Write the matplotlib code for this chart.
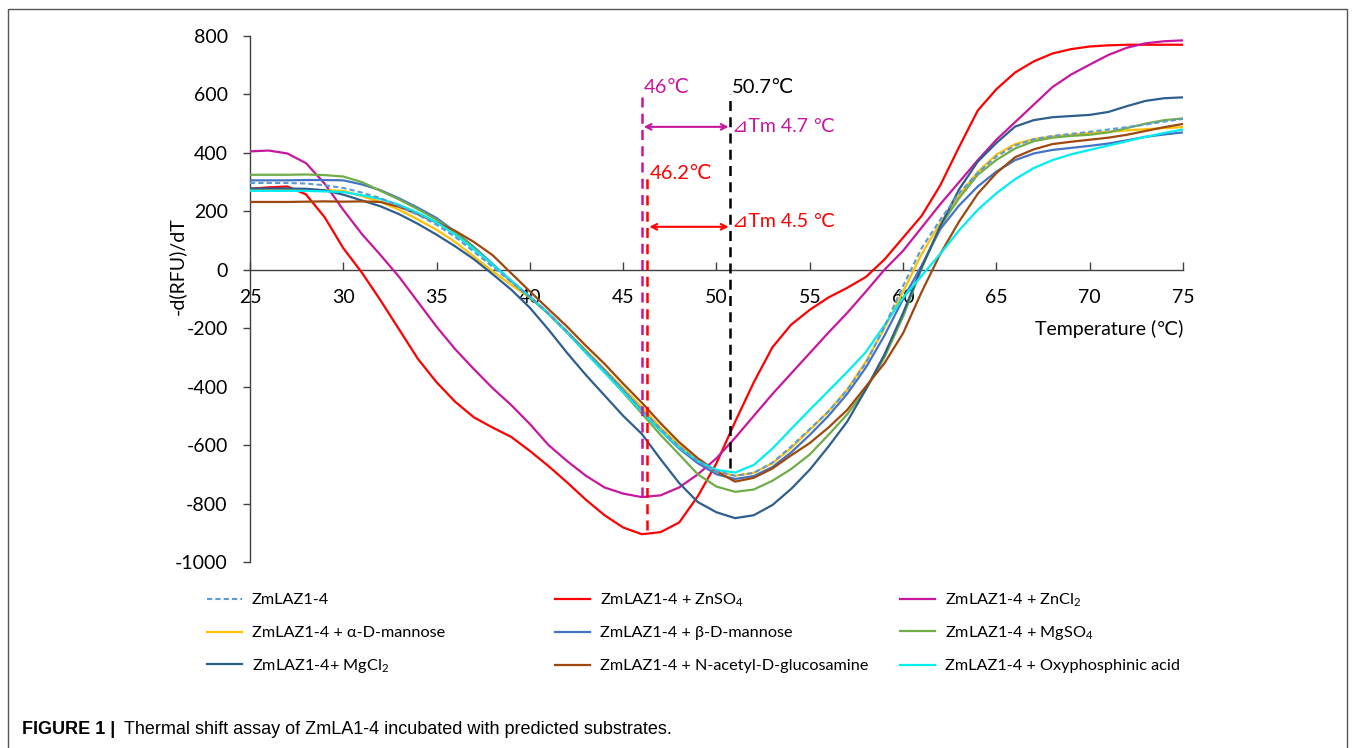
import matplotlib
matplotlib.use('Agg')
import matplotlib.pyplot as plt
import numpy as np
from matplotlib.patches import Rectangle

plt.rcParams['font.family'] = ['Lato', 'DejaVu Sans']
plt.rcParams['axes.unicode_minus'] = False
plt.rcParams['mathtext.fontset'] = 'custom'
plt.rcParams['mathtext.rm'] = 'Lato'
plt.rcParams['mathtext.default'] = 'regular'

# temperature grid (deg C) and -d(RFU)/dT
temp = np.arange(25, 76)

zmlaz = [297, 297, 297, 295, 289, 280, 264, 245, 218, 188,
         154, 112, 62, 10, -42, -92, -150, -212, -278, -343,
         -410, -478, -545, -605, -655, -690, -705, -695, -660, -605,
         -545, -485, -412, -320, -195, -55, 75, 172, 262, 332,
         388, 425, 447, 458, 465, 472, 480, 488, 497, 507,
         516]
znso4 = [277, 282, 285, 258, 180, 74, -10, -105, -205, -305,
         -385, -452, -505, -540, -572, -620, -672, -728, -787, -840,
         -882, -905, -898, -865, -775, -662, -520, -385, -265, -188,
         -137, -95, -62, -25, 35, 110, 185, 290, 420, 545,
         618, 675, 713, 740, 755, 764, 768, 770, 770, 770,
         770]
zncl2 = [405, 408, 398, 365, 295, 205, 122, 50, -25, -110,
         -195, -272, -340, -405, -463, -528, -600, -655, -705, -745,
         -766, -778, -772, -745, -700, -645, -575, -500, -425, -355,
         -285, -215, -148, -75, 0, 65, 145, 225, 300, 375,
         445, 505, 565, 625, 668, 702, 735, 760, 775, 782,
         785]
alpha_man = [275, 275, 275, 274, 272, 270, 252, 232, 205, 172,
             137, 95, 45, -5, -52, -95, -150, -212, -275, -340,
             -405, -470, -540, -600, -652, -690, -705, -695, -662, -610,
             -548, -485, -410, -315, -200, -75, 55, 160, 255, 335,
             394, 430, 447, 456, 462, 468, 472, 477, 481, 485,
             488]
beta_man = [306, 306, 306, 307, 307, 306, 292, 272, 244, 212,
            177, 130, 78, 20, -38, -92, -150, -213, -280, -345,
            -413, -482, -550, -612, -662, -700, -716, -706, -675, -625,
            -565, -500, -425, -335, -225, -100, 15, 140, 220, 285,
            336, 375, 398, 410, 417, 424, 432, 443, 455, 463,
            470]
mgso4 = [325, 325, 325, 326, 324, 319, 300, 270, 240, 207,
         171, 128, 75, 18, -40, -95, -152, -215, -282, -350,
         -420, -492, -565, -632, -700, -742, -760, -752, -722, -682,
         -632, -565, -495, -410, -300, -160, 5, 150, 245, 325,
         376, 415, 440, 452, 458, 462, 470, 485, 500, 512,
         518]
mgcl2 = [278, 278, 278, 277, 272, 257, 237, 217, 190, 157,
         120, 80, 36, -15, -68, -130, -205, -285, -360, -430,
         -500, -562, -648, -730, -795, -830, -850, -840, -805, -750,
         -684, -605, -520, -410, -290, -148, 10, 150, 275, 370,
         434, 490, 512, 522, 526, 530, 540, 560, 578, 587,
         590]
acetyl = [232, 232, 232, 233, 234, 233, 234, 232, 215, 190,
          162, 133, 95, 50, -12, -74, -135, -195, -260, -322,
          -390, -455, -525, -590, -645, -690, -725, -712, -680, -635,
          -593, -540, -480, -400, -320, -217, -75, 55, 165, 260,
          331, 385, 412, 430, 438, 445, 452, 462, 475, 488,
          499]
oxy = [270, 270, 270, 270, 268, 266, 255, 242, 222, 195,
       162, 120, 70, 18, -38, -92, -150, -215, -285, -352,
       -418, -485, -550, -608, -655, -685, -694, -668, -612, -545,
       -479, -415, -350, -282, -190, -95, -20, 55, 135, 205,
       262, 310, 348, 375, 395, 410, 425, 440, 455, 468,
       480]

labels = ['ZmLAZ1-4', 'ZmLAZ1-4 + ZnSO$_4$', 'ZmLAZ1-4 + ZnCl$_2$',
          'ZmLAZ1-4 + α-D-mannose', 'ZmLAZ1-4 + β-D-mannose', 'ZmLAZ1-4 + MgSO$_4$',
          'ZmLAZ1-4+ MgCl$_2$', 'ZmLAZ1-4 + N-acetyl-D-glucosamine',
          'ZmLAZ1-4 + Oxyphosphinic acid']
series = [zmlaz, znso4, zncl2, alpha_man, beta_man, mgso4, mgcl2, acetyl, oxy]
colors = ['#5B9BD5', '#FF0000', '#C8179F', '#FFC000', '#4472C4', '#70AD47',
          '#2E5E8E', '#9E480E', '#00EEF2']

# melting temperatures marked on the plot
tm_ctrl = 50.7
tm_zncl2 = 46.0
tm_znso4 = 46.3

fig = plt.figure(figsize=(13.57, 7.48), dpi=100)
ax = fig.add_axes([0.1842, 0.2487, 0.6876, 0.7032])

lines = []
for vals, lab, col in zip(series, labels, colors):
    if lab == 'ZmLAZ1-4':
        ln, = ax.plot(temp, vals, color=col, lw=1.5, ls=(0, (2.5, 1.5)), label=lab, zorder=4)
    else:
        ln, = ax.plot(temp, vals, color=col, lw=1.6, label=lab, zorder=3)
    lines.append(ln)

ax.set_xlim(25, 75)
ax.set_ylim(-1000, 800)
ax.set_xticks(np.arange(25, 76, 5))
ax.set_yticks(np.arange(-1000, 801, 200))

for s in ['top', 'right']:
    ax.spines[s].set_visible(False)
ax.spines['bottom'].set_position(('data', 0))
for s in ['bottom', 'left']:
    ax.spines[s].set_color('#404040')
    ax.spines[s].set_linewidth(1.0)
ax.tick_params(axis='x', direction='in', length=6, width=1, color='#404040',
               labelsize=14, pad=14)
ax.tick_params(axis='y', direction='out', length=5, width=1, color='#404040',
               labelsize=14, pad=11)

ax.set_ylabel('-d(RFU)/dT', fontsize=14)
ax.yaxis.set_label_coords(-0.069, 0.563)
ax.text(75, -202, 'Temperature (℃)', ha='right', va='center', fontsize=14)

# Tm markers
magenta = '#C8179F'
dash = (0, (4, 2.5))
ax.plot([tm_zncl2, tm_zncl2], [-778, 600], color=magenta, lw=1.8, ls=dash, zorder=5)
ax.plot([tm_znso4, tm_znso4], [-890, 330], color='#FF0000', lw=1.8, ls=dash, zorder=5)
ax.plot([tm_ctrl, tm_ctrl], [-680, 600], color='black', lw=1.8, ls=dash, zorder=5)

ax.text(tm_zncl2 + 0.1, 622, '46℃', color=magenta, fontsize=14.5, va='center')
ax.text(tm_znso4 + 0.1, 330, '46.2℃', color='#FF0000', fontsize=14.5, va='center')
ax.text(tm_ctrl + 0.1, 622, '50.7℃', color='black', fontsize=14.5, va='center')

ax.annotate('', xy=(tm_ctrl - 0.05, 489), xytext=(tm_zncl2 + 0.1, 489),
            arrowprops=dict(arrowstyle='<->', color=magenta, lw=1.5,
                            shrinkA=0, shrinkB=0))
ax.annotate('', xy=(tm_ctrl - 0.05, 147), xytext=(tm_znso4 + 0.1, 147),
            arrowprops=dict(arrowstyle='<->', color='#FF0000', lw=1.5,
                            shrinkA=0, shrinkB=0))
ax.text(tm_ctrl + 0.15, 489, '⊿Tm 4.7 ℃', color=magenta, fontsize=14, va='center')
ax.text(tm_ctrl + 0.15, 164, '⊿Tm 4.5 ℃', color='#FF0000', fontsize=14, va='center')

# legend: 3 x 3 grid, filled row by row, one entry per legend so rows line up
col_x = [207 / 1357, 555 / 1357, 900 / 1357]
row_y = [1 - 600 / 748, 1 - 633 / 748, 1 - 666 / 748]
for i, ln in enumerate(lines):
    fig.legend(handles=[ln], loc='center left',
               bbox_to_anchor=(col_x[i % 3], row_y[i // 3]),
               frameon=False, fontsize=11.7, borderpad=0, borderaxespad=0,
               handlelength=2.15, handletextpad=0.6)

# figure frame and caption
fig.patches.append(Rectangle((8 / 1357, -0.02), 1339 / 1357, 1.02 - 9 / 748,
                             transform=fig.transFigure, fill=False,
                             edgecolor='#555555', lw=1.0))
fig.text(22 / 1357, 1 - 729 / 748, 'FIGURE 1 |', fontsize=13, weight='bold',
         family='Liberation Sans', va='center')
fig.text(124 / 1357, 1 - 729 / 748,
         'Thermal shift assay of ZmLA1-4 incubated with predicted substrates.',
         fontsize=13, family='Liberation Sans', va='center')

fig.savefig('out.png', dpi=100)
